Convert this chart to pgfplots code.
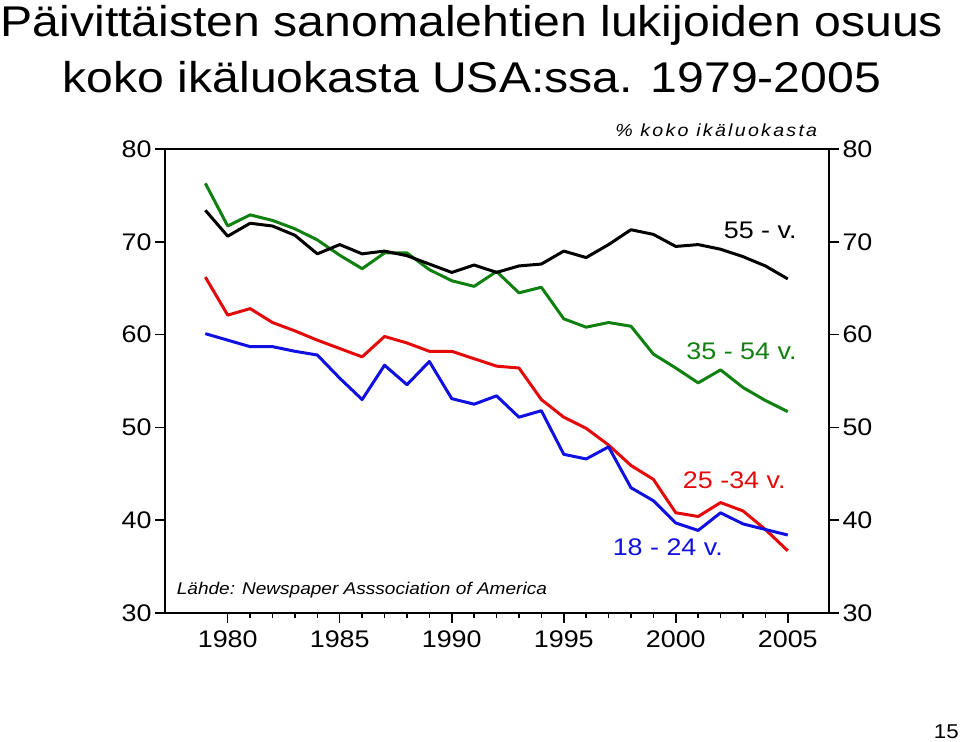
\documentclass[border=0pt]{standalone}
\usepackage{pgfplots}
\pgfplotsset{compat=1.18}
\usepackage{fontspec}
\setmainfont{Liberation Sans}[FakeStretch=1.12]
\definecolor{cgreen}{RGB}{16,128,16}
\definecolor{cred}{RGB}{228,10,10}
\definecolor{cblue}{RGB}{16,16,224}
\pgfplotstableread{
year old mid young teen
1979 73.4 76.3 66.2 60.1
1980 70.6 71.7 62.1 59.4
1981 72.0 72.9 62.8 58.7
1982 71.7 72.3 61.3 58.7
1983 70.7 71.4 60.4 58.2
1984 68.7 70.2 59.4 57.8
1985 69.7 68.55 58.5 55.3
1986 68.7 67.1 57.6 53.0
1987 69.0 68.8 59.8 56.7
1988 68.5 68.8 59.1 54.6
1989 67.6 67.0 58.2 57.1
1990 66.7 65.8 58.2 53.1
1991 67.5 65.2 57.4 52.5
1992 66.7 66.8 56.6 53.4
1993 67.4 64.5 56.4 51.1
1994 67.6 65.1 53.0 51.8
1995 69.0 61.7 51.1 47.1
1996 68.3 60.8 49.9 46.6
1997 69.7 61.3 48.1 47.9
1998 71.3 60.9 45.9 43.5
1999 70.8 57.9 44.4 42.1
2000 69.5 56.4 40.8 39.7
2001 69.7 54.8 40.4 38.9
2002 69.2 56.2 41.9 40.8
2003 68.4 54.3 41.0 39.6
2004 67.4 52.9 39.0 39.0
2005 66.0 51.7 36.7 38.4
}\datatable
\begin{document}
\begin{tikzpicture}[x=1pt,y=1pt]
\useasboundingbox (0,0) rectangle (960,741);
\node[anchor=base, inner sep=0] at (472,704) {\fontsize{43}{50}\selectfont Päivittäisten sanomalehtien lukijoiden osuus};
\node[anchor=base, inner sep=0] at (472,648.3) {\fontsize{43}{50}\selectfont koko ikäluokasta USA:ssa. 1979-2005};
\node[anchor=base east, inner sep=0] at (959,3) {\fontsize{20}{24}\selectfont 15};
\pgfplotsset{
  commonax/.style={
    at={(165pt,128pt)}, anchor=south west, scale only axis,
    width=664pt, height=464pt,
    xmin=1977.2, xmax=2006.84, ymin=30, ymax=80,
    axis line style={line width=1.8pt},
    tick style={line width=1.5pt, black},
    major tick length=10pt, minor tick length=5pt,
    tick align=outside,
    ytick={30,40,...,80},
    ticklabel style={font=\fontsize{24}{28}\selectfont},
    /pgf/number format/assume math mode=true,
    /pgf/number format/1000 sep={},
  }
}
\begin{axis}[commonax,
    xtick={1980,1985,...,2005}, minor x tick num=4,
    xticklabel style={yshift=-4pt},
    xtick pos=lower, ytick pos=left, yticklabel pos=left,
    clip=false]
\addplot[cgreen, line width=3pt, line join=round] table[x=year,y=mid]{\datatable};
\addplot[black, line width=3pt, line join=round] table[x=year,y=old]{\datatable};
\addplot[cred, line width=3pt, line join=round] table[x=year,y=young]{\datatable};
\addplot[cblue, line width=3pt, line join=round] table[x=year,y=teen]{\datatable};
\node[anchor=base east, inner sep=0, font=\fontsize{24}{28}\selectfont, text=black] at (axis cs:2005.40,70.32) {55 - v.};
\node[anchor=base east, inner sep=0, font=\fontsize{24}{28}\selectfont, text=cgreen] at (axis cs:2005.40,57.31) {35 - 54 v.};
\node[anchor=base east, inner sep=0, font=\fontsize{24}{28}\selectfont, text=cred] at (axis cs:2004.91,43.41) {25 -34 v.};
\node[anchor=base east, inner sep=0, font=\fontsize{24}{28}\selectfont, text=cblue] at (axis cs:2002.11,36.16) {18 - 24 v.};
\node[anchor=base west, inner sep=0, font=\fontsize{17.5}{20}\selectfont\itshape\addfontfeature{LetterSpace=13}] at (axis cs:1997.29,81.40) {\% koko ikäluokasta};
\node[anchor=base west, inner sep=0, font=\fontsize{17}{20}\selectfont\itshape] at (axis cs:1977.72,31.94) {Lähde: Newspaper Asssociation of America};
\end{axis}
\begin{axis}[commonax,
    xtick=\empty, ytick pos=right, yticklabel pos=right]
\end{axis}
\end{tikzpicture}
\end{document}
